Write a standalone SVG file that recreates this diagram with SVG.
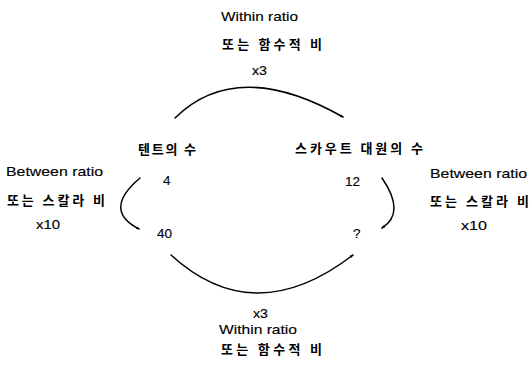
<svg xmlns="http://www.w3.org/2000/svg" width="531" height="369" viewBox="0 0 531 369">
<defs>
<style>
text{font-family:"Liberation Sans","Noto Sans CJK KR",sans-serif;font-size:13.5px;fill:#000;stroke:#000;stroke-width:0.15;}
.ko{font-family:"Noto Sans CJK KR",sans-serif;font-size:13px;font-weight:700;stroke:none;}
.arc{fill:none;stroke:#000;stroke-width:1.5;stroke-linecap:round;}
</style>
<marker id="ah" viewBox="0 0 10 10" refX="8" refY="5" markerWidth="4" markerHeight="4" orient="auto" markerUnits="userSpaceOnUse">
<path d="M0,1.5 L10,5 L0,8.5 z" fill="#000"/>
</marker>
</defs>
<rect width="531" height="369" fill="#fff"/>
<g id="connectors">
<path class="arc" d="M175,118 Q237,57 343,117" marker-end="url(#ah)"/>
<path class="arc" d="M140,178 Q102,210 139,229" marker-end="url(#ah)"/>
<path class="arc" d="M382,178 Q406,213 382,228" marker-end="url(#ah)"/>
<path class="arc" d="M171,255 Q254,331 353,255" marker-end="url(#ah)"/>
</g>
<g id="top-label">
<text x="221" y="21" textLength="77" lengthAdjust="spacingAndGlyphs">Within ratio</text>
<text class="ko" x="222" y="49" textLength="100" lengthAdjust="spacing">또는 함수적 비</text>
<text x="252" y="75" textLength="15" lengthAdjust="spacingAndGlyphs">x3</text>
</g>
<g id="tent">
<text class="ko" x="138" y="154" textLength="58" lengthAdjust="spacing">텐트의 수</text>
</g>
<g id="scout">
<text class="ko" x="295" y="153" textLength="128" lengthAdjust="spacing">스카우트 대원의 수</text>
</g>
<g id="n4"><text x="163" y="185">4</text></g>
<g id="n40"><text x="157" y="238">40</text></g>
<g id="n12"><text x="345" y="186">12</text></g>
<g id="nq"><text x="353" y="238">?</text></g>
<g id="left-label">
<text x="6" y="176" textLength="97" lengthAdjust="spacingAndGlyphs">Between ratio</text>
<text class="ko" x="7" y="205" textLength="98" lengthAdjust="spacing">또는 스칼라 비</text>
<text x="36" y="229" textLength="24" lengthAdjust="spacingAndGlyphs">x10</text>
</g>
<g id="right-label">
<text x="430" y="178" textLength="97" lengthAdjust="spacingAndGlyphs">Between ratio</text>
<text class="ko" x="430" y="206" textLength="99" lengthAdjust="spacing">또는 스칼라 비</text>
<text x="461" y="230" textLength="26" lengthAdjust="spacingAndGlyphs">x10</text>
</g>
<g id="bottom-label">
<text x="253" y="318" textLength="15" lengthAdjust="spacingAndGlyphs">x3</text>
<text x="219" y="334" textLength="78" lengthAdjust="spacingAndGlyphs">Within ratio</text>
<text class="ko" x="221" y="354" textLength="101" lengthAdjust="spacing">또는 함수적 비</text>
</g>
</svg>
